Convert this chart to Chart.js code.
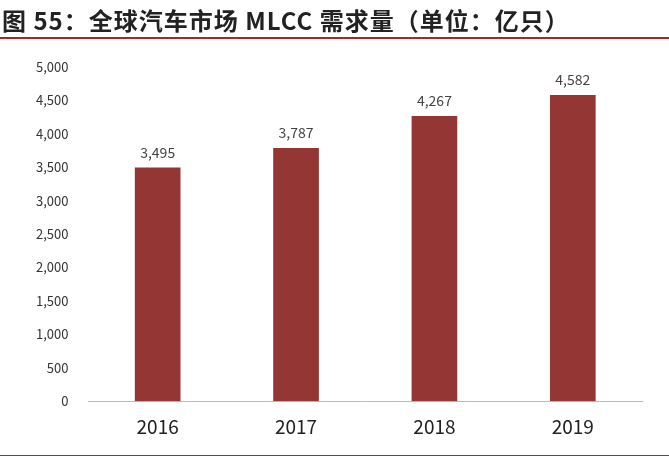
<!DOCTYPE html><html><head><meta charset="utf-8">
<script src="https://cdn.jsdelivr.net/npm/chart.js@4"></script>
<style>body{margin:0;width:669px;height:459px;position:relative;background:#fff;overflow:hidden}
#t{position:absolute;left:2px;top:2px;font:bold 24px "Noto Sans CJK SC";color:#222;white-space:nowrap;letter-spacing:1px}
#l1{position:absolute;left:0;top:37px;width:669px;height:2px;background:#b22222}
#l2{position:absolute;left:0;top:455px;width:669px;height:1px;background:#b22222}
#c{position:absolute;left:0;top:0}</style></head><body>
<canvas id="c" width="669" height="459"></canvas>
<div id="t">图 55：全球汽车市场 MLCC 需求量（单位：亿只）</div><div id="l1"></div><div id="l2"></div>
<script>
const categories=["2016","2017","2018","2019"];
const values=[3495,3787,4267,4582];
const yTicks=[0,500,1000,1500,2000,2500,3000,3500,4000,4500,5000];
const labelPlugin={id:'lbl',afterDatasetsDraw(ch){const c=ch.ctx;const m=ch.getDatasetMeta(0);c.save();c.font='14px "Noto Sans CJK SC"';c.fillStyle='#444';c.textAlign='center';c.textBaseline='bottom';m.data.forEach((b,i)=>c.fillText(values[i].toLocaleString('en-US'),b.x,b.y-8));c.restore();}};
new Chart(document.getElementById('c'),{type:'bar',data:{labels:categories,datasets:[{data:values,backgroundColor:'#943634',barPercentage:0.66,categoryPercentage:0.5}]},
options:{responsive:false,animation:false,plugins:{legend:{display:false},tooltip:{enabled:false}},
layout:{padding:{top:67,left:24,right:27,bottom:15}},
scales:{y:{min:0,max:5000,afterBuildTicks(a){a.ticks=yTicks.map(v=>({value:v}))},ticks:{color:'#333',font:{size:13,family:'Noto Sans CJK SC'},padding:12,callback:v=>v.toLocaleString('en-US')},grid:{display:false},border:{display:false}},
x:{ticks:{color:'#222',font:{size:19,family:'Noto Sans CJK SC'},padding:6},grid:{display:false},border:{color:'#bbb'}}}},plugins:[labelPlugin]});
</script></body></html>
